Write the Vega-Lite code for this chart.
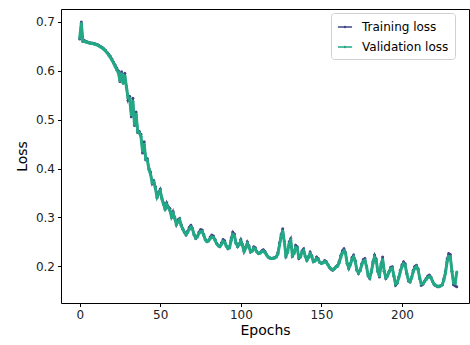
{
  "$schema": "https://vega.github.io/schema/vega-lite/v6.json",
  "width": 408,
  "height": 294,
  "autosize": {"type": "none"},
  "padding": {"left": 61, "top": 9, "right": 1, "bottom": 42},
  "background": "white",
  "config": {
    "font": "DejaVu Sans",
    "view": {"stroke": "#000000", "strokeWidth": 1},
    "axis": {
      "grid": false,
      "domain": false,
      "tickColor": "#000000",
      "tickSize": 3.5,
      "labelFont": "DejaVu Sans",
      "labelFontSize": 12,
      "labelColor": "#222222",
      "labelPadding": 3,
      "titleFont": "DejaVu Sans",
      "titleFontSize": 14,
      "titleFontWeight": "normal",
      "titleColor": "#000000"
    }
  },
  "data": {
    "values": [
      {"e":0,"t":0.665,"v":0.667},{"e":1,"t":0.700,"v":0.697},{"e":2,"t":0.660,"v":0.661},{"e":3,"t":0.662,"v":0.660},
      {"e":4,"t":0.660,"v":0.659},{"e":5,"t":0.659,"v":0.658},{"e":6,"t":0.658,"v":0.657},{"e":7,"t":0.657,"v":0.656},
      {"e":8,"t":0.657,"v":0.656},{"e":9,"t":0.656,"v":0.655},{"e":10,"t":0.655,"v":0.654},{"e":11,"t":0.654,"v":0.653},
      {"e":12,"t":0.652,"v":0.651},{"e":13,"t":0.650,"v":0.649},{"e":14,"t":0.648,"v":0.647},{"e":15,"t":0.645,"v":0.644},
      {"e":16,"t":0.642,"v":0.641},{"e":17,"t":0.638,"v":0.637},{"e":18,"t":0.634,"v":0.632},{"e":19,"t":0.630,"v":0.628},
      {"e":20,"t":0.624,"v":0.622},{"e":21,"t":0.618,"v":0.616},{"e":22,"t":0.612,"v":0.609},{"e":23,"t":0.606,"v":0.602},
      {"e":24,"t":0.600,"v":0.596},{"e":25,"t":0.578,"v":0.580},{"e":26,"t":0.598,"v":0.594},{"e":27,"t":0.576,"v":0.574},
      {"e":28,"t":0.595,"v":0.590},{"e":29,"t":0.566,"v":0.568},{"e":30,"t":0.540,"v":0.545},{"e":31,"t":0.548,"v":0.544},
      {"e":32,"t":0.506,"v":0.510},{"e":33,"t":0.544,"v":0.538},{"e":34,"t":0.488,"v":0.490},{"e":35,"t":0.516,"v":0.511},
      {"e":36,"t":0.474,"v":0.476},{"e":37,"t":0.476,"v":0.473},{"e":38,"t":0.470,"v":0.466},{"e":39,"t":0.432,"v":0.436},
      {"e":40,"t":0.455,"v":0.450},{"e":41,"t":0.418,"v":0.420},{"e":42,"t":0.420,"v":0.417},{"e":43,"t":0.400,"v":0.398},
      {"e":44,"t":0.393,"v":0.388},{"e":45,"t":0.369,"v":0.371},{"e":46,"t":0.375,"v":0.372},{"e":47,"t":0.363,"v":0.359},
      {"e":48,"t":0.340,"v":0.342},{"e":49,"t":0.352,"v":0.349},{"e":50,"t":0.358,"v":0.354},{"e":51,"t":0.340,"v":0.338},
      {"e":52,"t":0.330,"v":0.327},{"e":53,"t":0.316,"v":0.318},{"e":54,"t":0.330,"v":0.326},{"e":55,"t":0.322,"v":0.320},
      {"e":56,"t":0.318,"v":0.314},{"e":57,"t":0.300,"v":0.301},{"e":58,"t":0.312,"v":0.308},{"e":59,"t":0.300,"v":0.298},
      {"e":60,"t":0.285,"v":0.286},{"e":61,"t":0.295,"v":0.291},{"e":62,"t":0.298,"v":0.295},{"e":63,"t":0.285,"v":0.283},
      {"e":64,"t":0.277,"v":0.276},{"e":65,"t":0.270,"v":0.269},{"e":66,"t":0.264,"v":0.265},{"e":67,"t":0.272,"v":0.269},
      {"e":68,"t":0.280,"v":0.276},{"e":69,"t":0.284,"v":0.280},{"e":70,"t":0.278,"v":0.276},{"e":71,"t":0.265,"v":0.264},
      {"e":72,"t":0.257,"v":0.258},{"e":73,"t":0.262,"v":0.260},{"e":74,"t":0.270,"v":0.267},{"e":75,"t":0.275,"v":0.271},
      {"e":76,"t":0.274,"v":0.271},{"e":77,"t":0.265,"v":0.263},{"e":78,"t":0.255,"v":0.254},{"e":79,"t":0.250,"v":0.251},
      {"e":80,"t":0.253,"v":0.252},{"e":81,"t":0.260,"v":0.257},{"e":82,"t":0.264,"v":0.260},{"e":83,"t":0.262,"v":0.259},
      {"e":84,"t":0.255,"v":0.253},{"e":85,"t":0.247,"v":0.246},{"e":86,"t":0.242,"v":0.242},{"e":87,"t":0.240,"v":0.241},
      {"e":88,"t":0.248,"v":0.245},{"e":89,"t":0.255,"v":0.251},{"e":90,"t":0.252,"v":0.249},{"e":91,"t":0.242,"v":0.241},
      {"e":92,"t":0.236,"v":0.237},{"e":93,"t":0.240,"v":0.238},{"e":94,"t":0.258,"v":0.253},{"e":95,"t":0.270,"v":0.265},
      {"e":96,"t":0.266,"v":0.263},{"e":97,"t":0.248,"v":0.247},{"e":98,"t":0.240,"v":0.241},{"e":99,"t":0.246,"v":0.244},
      {"e":100,"t":0.255,"v":0.251},{"e":101,"t":0.245,"v":0.243},{"e":102,"t":0.230,"v":0.231},{"e":103,"t":0.240,"v":0.237},
      {"e":104,"t":0.250,"v":0.246},{"e":105,"t":0.242,"v":0.240},{"e":106,"t":0.229,"v":0.230},{"e":107,"t":0.232,"v":0.231},
      {"e":108,"t":0.240,"v":0.237},{"e":109,"t":0.238,"v":0.235},{"e":110,"t":0.230,"v":0.229},{"e":111,"t":0.226,"v":0.226},
      {"e":112,"t":0.228,"v":0.227},{"e":113,"t":0.232,"v":0.230},{"e":114,"t":0.234,"v":0.231},{"e":115,"t":0.230,"v":0.228},
      {"e":116,"t":0.224,"v":0.223},{"e":117,"t":0.219,"v":0.219},{"e":118,"t":0.217,"v":0.217},{"e":119,"t":0.216,"v":0.216},
      {"e":120,"t":0.217,"v":0.216},{"e":121,"t":0.218,"v":0.217},{"e":122,"t":0.220,"v":0.219},{"e":123,"t":0.228,"v":0.225},
      {"e":124,"t":0.248,"v":0.243},{"e":125,"t":0.265,"v":0.260},{"e":126,"t":0.277,"v":0.272},{"e":127,"t":0.250,"v":0.250},
      {"e":128,"t":0.219,"v":0.222},{"e":129,"t":0.230,"v":0.228},{"e":130,"t":0.250,"v":0.246},{"e":131,"t":0.257,"v":0.252},
      {"e":132,"t":0.220,"v":0.222},{"e":133,"t":0.228,"v":0.226},{"e":134,"t":0.243,"v":0.239},{"e":135,"t":0.240,"v":0.237},
      {"e":136,"t":0.216,"v":0.218},{"e":137,"t":0.220,"v":0.219},{"e":138,"t":0.232,"v":0.229},{"e":139,"t":0.236,"v":0.232},
      {"e":140,"t":0.220,"v":0.220},{"e":141,"t":0.212,"v":0.213},{"e":142,"t":0.220,"v":0.218},{"e":143,"t":0.229,"v":0.225},
      {"e":144,"t":0.222,"v":0.220},{"e":145,"t":0.209,"v":0.210},{"e":146,"t":0.212,"v":0.211},{"e":147,"t":0.219,"v":0.216},
      {"e":148,"t":0.216,"v":0.214},{"e":149,"t":0.208,"v":0.208},{"e":150,"t":0.206,"v":0.206},{"e":151,"t":0.208,"v":0.207},
      {"e":152,"t":0.212,"v":0.210},{"e":153,"t":0.210,"v":0.208},{"e":154,"t":0.204,"v":0.203},{"e":155,"t":0.198,"v":0.198},
      {"e":156,"t":0.194,"v":0.195},{"e":157,"t":0.192,"v":0.193},{"e":158,"t":0.195,"v":0.195},{"e":159,"t":0.199,"v":0.198},
      {"e":160,"t":0.202,"v":0.200},{"e":161,"t":0.210,"v":0.207},{"e":162,"t":0.222,"v":0.218},{"e":163,"t":0.232,"v":0.227},
      {"e":164,"t":0.236,"v":0.231},{"e":165,"t":0.228,"v":0.226},{"e":166,"t":0.205,"v":0.206},{"e":167,"t":0.195,"v":0.197},
      {"e":168,"t":0.205,"v":0.203},{"e":169,"t":0.218,"v":0.214},{"e":170,"t":0.223,"v":0.219},{"e":171,"t":0.212,"v":0.210},
      {"e":172,"t":0.192,"v":0.193},{"e":173,"t":0.185,"v":0.187},{"e":174,"t":0.192,"v":0.191},{"e":175,"t":0.205,"v":0.202},
      {"e":176,"t":0.214,"v":0.210},{"e":177,"t":0.216,"v":0.212},{"e":178,"t":0.200,"v":0.199},{"e":179,"t":0.180,"v":0.182},
      {"e":180,"t":0.175,"v":0.177},{"e":181,"t":0.190,"v":0.188},{"e":182,"t":0.210,"v":0.206},{"e":183,"t":0.223,"v":0.218},
      {"e":184,"t":0.215,"v":0.212},{"e":185,"t":0.190,"v":0.190},{"e":186,"t":0.178,"v":0.180},{"e":187,"t":0.205,"v":0.201},
      {"e":188,"t":0.219,"v":0.214},{"e":189,"t":0.190,"v":0.190},{"e":190,"t":0.175,"v":0.177},{"e":191,"t":0.180,"v":0.180},
      {"e":192,"t":0.190,"v":0.188},{"e":193,"t":0.198,"v":0.195},{"e":194,"t":0.199,"v":0.196},{"e":195,"t":0.180,"v":0.180},
      {"e":196,"t":0.161,"v":0.164},{"e":197,"t":0.165,"v":0.166},{"e":198,"t":0.178,"v":0.176},{"e":199,"t":0.192,"v":0.189},
      {"e":200,"t":0.203,"v":0.199},{"e":201,"t":0.209,"v":0.205},{"e":202,"t":0.205,"v":0.202},{"e":203,"t":0.185,"v":0.185},
      {"e":204,"t":0.170,"v":0.172},{"e":205,"t":0.168,"v":0.169},{"e":206,"t":0.178,"v":0.176},{"e":207,"t":0.192,"v":0.189},
      {"e":208,"t":0.200,"v":0.196},{"e":209,"t":0.202,"v":0.199},{"e":210,"t":0.195,"v":0.193},{"e":211,"t":0.175,"v":0.176},
      {"e":212,"t":0.161,"v":0.164},{"e":213,"t":0.163,"v":0.164},{"e":214,"t":0.170,"v":0.169},{"e":215,"t":0.175,"v":0.173},
      {"e":216,"t":0.180,"v":0.177},{"e":217,"t":0.182,"v":0.179},{"e":218,"t":0.178,"v":0.176},{"e":219,"t":0.170,"v":0.169},
      {"e":220,"t":0.162,"v":0.163},{"e":221,"t":0.160,"v":0.161},{"e":222,"t":0.158,"v":0.159},{"e":223,"t":0.158,"v":0.159},
      {"e":224,"t":0.160,"v":0.160},{"e":225,"t":0.162,"v":0.162},{"e":226,"t":0.175,"v":0.172},{"e":227,"t":0.190,"v":0.186},
      {"e":228,"t":0.215,"v":0.209},{"e":229,"t":0.226,"v":0.220},{"e":230,"t":0.224,"v":0.219},{"e":231,"t":0.190,"v":0.190},
      {"e":232,"t":0.162,"v":0.166},{"e":233,"t":0.160,"v":0.165},{"e":234,"t":0.158,"v":0.188}
    ]
  },
  "encoding": {
    "x": {
      "field": "e",
      "type": "quantitative",
      "title": "Epochs",
      "scale": {"domain": [-11.6, 241.6], "nice": false, "zero": false},
      "axis": {"values": [0, 50, 100, 150, 200], "titlePadding": 3}
    }
  },
  "layer": [
    {
      "mark": {"type": "line", "strokeWidth": 2, "point": {"filled": true, "size": 9}},
      "encoding": {
        "y": {
          "field": "t",
          "type": "quantitative",
          "title": "Loss",
          "scale": {"domain": [0.1248, 0.7266], "nice": false, "zero": false},
          "axis": {"values": [0.2, 0.3, 0.4, 0.5, 0.6, 0.7], "format": ".1f", "titlePadding": 6}
        },
        "color": {
          "datum": "Training loss",
          "type": "nominal",
          "scale": {"domain": ["Training loss", "Validation loss"], "range": ["#414487", "#22a884"]},
          "legend": {
            "title": null,
            "orient": "none",
            "legendX": 270,
            "legendY": 4,
            "padding": 6,
            "rowPadding": 6,
            "fillColor": "white",
            "strokeColor": "#d0d0d0",
            "cornerRadius": 3,
            "labelFont": "DejaVu Sans",
            "labelFontSize": 12,
            "labelColor": "#000000",
            "labelOffset": 9,
            "symbolType": "M-1,0L1,0M-0.07,0A0.07,0.07,0,1,1,0.07,0A0.07,0.07,0,1,1,-0.07,0Z",
            "symbolSize": 200,
            "symbolStrokeWidth": 1.6,
            "symbolFillColor": "transparent"
          }
        }
      }
    },
    {
      "mark": {"type": "line", "strokeWidth": 3, "point": {"filled": true, "size": 9}},
      "encoding": {
        "y": {"field": "v", "type": "quantitative"},
        "color": {"datum": "Validation loss", "type": "nominal"}
      }
    }
  ]
}
